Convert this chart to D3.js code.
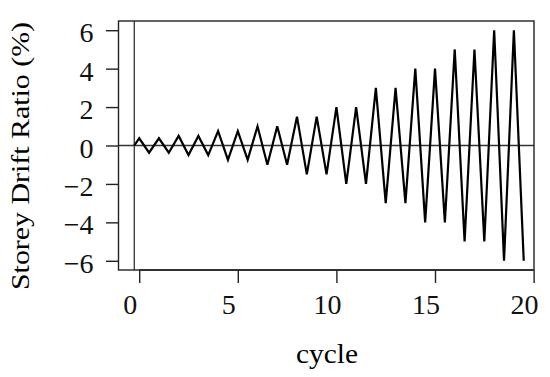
<!DOCTYPE html>
<html>
<head>
    <style>
        body {
            margin: 0;
            background-color: #ffffff;
            font-family: "Liberation Serif", "Times New Roman", serif;
        }
        .wave {
            fill: none;
            stroke: #000;
            stroke-width: 2.2px;
            stroke-linejoin: miter;
        }
        .ref {
            stroke: #333;
            stroke-width: 1.3px;
        }
        .frame {
            fill: none;
            stroke: #222;
            stroke-width: 1.4px;
        }
        .tick line {
            stroke: #222;
            stroke-width: 1.4px;
        }
        .tick text {
            font-family: "Liberation Serif", "Times New Roman", serif;
            font-size: 28px;
            fill: #111;
        }
    </style>
</head>
<body>
    <svg id="chart" width="550" height="377"></svg>

    <script src="https://cdnjs.cloudflare.com/ajax/libs/d3/7.8.5/d3.min.js"></script>
    <script>
        // peak drift per cycle (%), each level repeated twice
        var cycles = [0, 1, 2, 3, 4, 5, 6, 7, 8, 9, 10, 11, 12, 13, 14, 15, 16, 17, 18, 19];
        var amplitudes = [0.375, 0.375, 0.5, 0.5, 0.75, 0.75, 1, 1, 1.5, 1.5,
                          2, 2, 3, 3, 4, 4, 5, 5, 6, 6];
        var startCycle = -0.25;
        var xTicks = [0, 5, 10, 15, 20];
        var yTicks = [-6, -4, -2, 0, 2, 4, 6];

        var svg = d3.select("#chart"),
            margin = {top: 21, right: 16, bottom: 107, left: 118.5},
            width = 550 - margin.left - margin.right,
            height = 377 - margin.top - margin.bottom;

        var x = d3.scaleLinear().domain([-1.05, 20.02]).range([margin.left, margin.left + width]);
        var y = d3.scaleLinear().domain([-6.48, 6.48]).range([margin.top + height, margin.top]);

        // triangular signal: start at zero, then peak / trough each cycle
        var points = [[startCycle, 0]];
        cycles.forEach(function(c, i) {
            points.push([c, amplitudes[i]]);
            points.push([c + 0.5, -amplitudes[i]]);
        });

        var line = d3.line()
            .x(function(d) { return x(d[0]); })
            .y(function(d) { return y(d[1]); });

        // reference lines
        svg.append("line").attr("class", "ref")
            .attr("x1", x.range()[0]).attr("x2", x.range()[1])
            .attr("y1", y(0)).attr("y2", y(0));
        svg.append("line").attr("class", "ref")
            .attr("x1", x(startCycle)).attr("x2", x(startCycle))
            .attr("y1", y.range()[0]).attr("y2", y.range()[1]);

        svg.append("path").datum(points)
            .attr("class", "wave")
            .attr("d", line);

        svg.append("rect").attr("class", "frame")
            .attr("x", margin.left).attr("y", margin.top)
            .attr("width", width).attr("height", height);

        // x axis (R style: ticks hanging under the frame)
        var xAxis = svg.append("g")
            .attr("transform", "translate(0," + (margin.top + height) + ")")
            .call(d3.axisBottom(x).tickValues(xTicks).tickSize(13).tickSizeOuter(0).tickFormat(d3.format("d")));
        xAxis.attr("font-family", null).attr("font-size", null);
        xAxis.select(".domain").attr("d", "M" + x(0) + ",0H" + x(20)).attr("stroke", "#222").attr("stroke-width", 1.4);
        xAxis.selectAll("text")
            .attr("dx", -9.5).attr("y", 44).attr("dy", 0);

        var yAxis = svg.append("g")
            .attr("transform", "translate(" + margin.left + ",0)")
            .call(d3.axisLeft(y).tickValues(yTicks).tickSize(12.5).tickSizeOuter(0)
                .tickFormat(function(d) { return d < 0 ? "\u2212" + (-d) : d; }));
        yAxis.attr("font-family", null).attr("font-size", null);
        yAxis.select(".domain").remove();
        yAxis.selectAll("text")
            .attr("x", -25).attr("dy", 11.5);

        svg.append("text")
            .attr("x", 327).attr("y", 363)
            .attr("text-anchor", "middle")
            .style("font-size", "28px")
            .attr("textLength", 62).attr("lengthAdjust", "spacingAndGlyphs")
            .text("cycle");

        svg.append("text")
            .attr("transform", "translate(28.5,156) rotate(-90)")
            .attr("text-anchor", "middle")
            .style("font-size", "26px")
            .attr("textLength", 268).attr("lengthAdjust", "spacingAndGlyphs")
            .text("Storey Drift Ratio (%)");
    </script>
</body>
</html>
